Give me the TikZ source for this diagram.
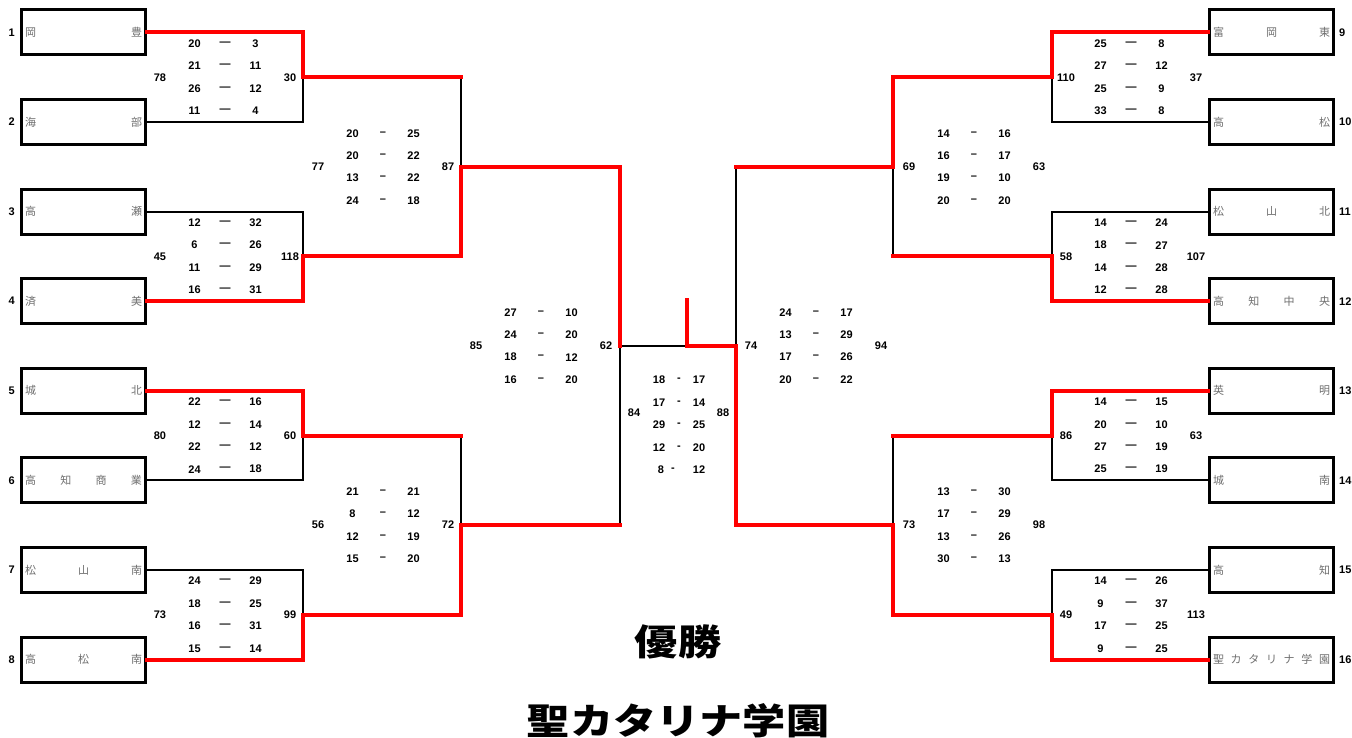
\documentclass[tikz,border=0pt]{standalone}
\usepackage{fontspec}
\setmainfont{Liberation Sans}
\newfontfamily\jpfont{Noto Sans CJK JP}
\usetikzlibrary{positioning}
\definecolor{namegray}{RGB}{110,110,110}

\begin{document}
\begin{tikzpicture}[
                    x=1pt,
                    y=-1pt,
                    team/.style={
                        draw=black,
                        line width=3pt,
                        minimum width=124pt,
                        minimum height=45pt,
                        inner sep=0pt,
                        text=namegray,
                        font=\jpfont\fontsize{11}{11}\selectfont
                    },
                    seed/.style={inner sep=0pt, font=\bfseries\fontsize{11}{11}\selectfont},
                    score/.style={inner sep=0pt, font=\bfseries\fontsize{11}{11}\selectfont},
                    win/.style={draw=red, line width=4pt, line cap=rect},
                    lose/.style={draw=black, line width=2pt, line cap=rect},
                    title/.style={inner sep=0pt, xscale=1.2, font=\jpfont\bfseries\fontsize{36}{36}\selectfont}
                ]
                \useasboundingbox (0,0) rectangle (1352,738);
                \newcommand{\mkteam}[4]{
                    \node (#1) [team] at (#2,#3) {\hbox to 117pt{#4}};
                }
                \newcommand{\mkmatch}[7]{
                    \node (#1L) [score] at ({#2-65},#3) {#5};
                    \node (#1R) [score] at ({#2+65},#3) {#6};
                    \foreach \a/\b [count=\k] in {#7} {
                        \node (#1a\k) [score] at ({#2-30.5},{#3+(\k-2.5)*22.4}) {\a};
                        \node (#1d\k) [score] at ({#2},{#3+(\k-2.5)*22.4}) {#4};
                        \node (#1b\k) [score] at ({#2+30.5},{#3+(\k-2.5)*22.4}) {\b};
                    }
                }
                % teams, left side
                \mkteam{t1}{83.5}{32.5}{岡\hfill 豊}
                \mkteam{t2}{83.5}{122.1}{海\hfill 部}
                \mkteam{t3}{83.5}{211.6}{高\hfill 瀬}
                \mkteam{t4}{83.5}{301.2}{済\hfill 美}
                \mkteam{t5}{83.5}{390.8}{城\hfill 北}
                \mkteam{t6}{83.5}{480.4}{高\hfill 知\hfill 商\hfill 業}
                \mkteam{t7}{83.5}{569.9}{松\hfill 山\hfill 南}
                \mkteam{t8}{83.5}{659.5}{高\hfill 松\hfill 南}
                % teams, right side
                \mkteam{t9}{1271.5}{32.5}{富\hfill 岡\hfill 東}
                \mkteam{t10}{1271.5}{122.1}{高\hfill 松}
                \mkteam{t11}{1271.5}{211.6}{松\hfill 山\hfill 北}
                \mkteam{t12}{1271.5}{301.2}{高\hfill 知\hfill 中\hfill 央}
                \mkteam{t13}{1271.5}{390.8}{英\hfill 明}
                \mkteam{t14}{1271.5}{480.4}{城\hfill 南}
                \mkteam{t15}{1271.5}{569.9}{高\hfill 知}
                \mkteam{t16}{1271.5}{659.5}{聖\hfill カ\hfill タ\hfill リ\hfill ナ\hfill 学\hfill 園}

                \foreach \i in {1,...,8} {
                    \node (n\i) [seed, left=5pt of t\i] {\i};
                }
                \foreach \i in {9,...,16} {
                    \node (n\i) [seed, right=4pt of t\i] {\i};
                }

                % junctions
                \coordinate (m1) at (303,77.3);
                \coordinate (m2) at (303,256.4);
                \coordinate (m3) at (303,435.6);
                \coordinate (m4) at (303,614.7);
                \coordinate (m5) at (461,166.9);
                \coordinate (m6) at (461,525.1);
                \coordinate (m7) at (620,346);
                \coordinate (m9) at (1052,77.3);
                \coordinate (m10) at (1052,256.4);
                \coordinate (m11) at (1052,435.6);
                \coordinate (m12) at (1052,614.7);
                \coordinate (m13) at (893,166.9);
                \coordinate (m14) at (893,525.1);
                \coordinate (m8) at (736,346);
                \coordinate (fin) at (687,346);
                \coordinate (top) at (687,300);

                % scores
                \mkmatch{s1}{225}{77.3}{—}{78}{30}{20/3,21/11,26/12,11/4}
                \mkmatch{s2}{225}{256.4}{—}{45}{118}{12/32,6/26,11/29,16/31}
                \mkmatch{s3}{225}{435.6}{—}{80}{60}{22/16,12/14,22/12,24/18}
                \mkmatch{s4}{225}{614.7}{—}{73}{99}{24/29,18/25,16/31,15/14}
                \mkmatch{s5}{383}{166.9}{–}{77}{87}{20/25,20/22,13/22,24/18}
                \mkmatch{s6}{383}{525.1}{–}{56}{72}{21/21,8/12,12/19,15/20}
                \mkmatch{s7}{541}{346}{–}{85}{62}{27/10,24/20,18/12,16/20}
                \mkmatch{s8}{816}{346}{–}{74}{94}{24/17,13/29,17/26,20/22}
                \mkmatch{s9}{1131}{77.3}{—}{110}{37}{25/8,27/12,25/9,33/8}
                \mkmatch{s10}{1131}{256.4}{—}{58}{107}{14/24,18/27,14/28,12/28}
                \mkmatch{s11}{1131}{435.6}{—}{86}{63}{14/15,20/10,27/19,25/19}
                \mkmatch{s12}{1131}{614.7}{—}{49}{113}{14/26,9/37,17/25,9/25}
                \mkmatch{s13}{974}{166.9}{–}{69}{63}{14/16,16/17,19/10,20/20}
                \mkmatch{s14}{974}{525.1}{–}{73}{98}{13/30,17/29,13/26,30/13}

                % final
                \node (s0L) [score] at (634,413) {84};
                \node (s0R) [score] at (723,413) {88};
                \foreach \a/\b [count=\k] in {18/17,17/14,29/25,12/20} {
                    \node (s0a\k) [score] at (659,{380+(\k-1)*22.5}) {\a};
                    \node (s0d\k) [score] at (679,{380+(\k-1)*22.5}) {-};
                    \node (s0b\k) [score] at (699,{380+(\k-1)*22.5}) {\b};
                }
                \node (s0a5) [score] at (661,470) {8};
                \node (s0d5) [score] at (673,470) {-};
                \node (s0b5) [score] at (699,470) {12};

                \node (champ) [title] at (678,642) {優勝};
                \node (winner) [title] at (678,721) {聖カタリナ学園};

                % losing lines
                \draw[lose] (t2.east) -| (m1);
                \draw[lose] (t3.east) -| (m2);
                \draw[lose] (t6.east) -| (m3);
                \draw[lose] (t7.east) -| (m4);
                \draw[lose] (t10.west) -| (m9);
                \draw[lose] (t11.west) -| (m10);
                \draw[lose] (t14.west) -| (m11);
                \draw[lose] (t15.west) -| (m12);
                \draw[lose] (m1 -| m5) -- (m5);
                \draw[lose] (m3 -| m6) -- (m6);
                \draw[lose] (m10 -| m13) -- (m13);
                \draw[lose] (m11 -| m14) -- (m14);
                \draw[lose] (m6 -| m7) -- (m7);
                \draw[lose] (m13 -| m8) -- (m8);
                \draw[lose] (m7) -- (fin);

                % winning lines
                \draw[win] (t1.east) -| (m1);
                \draw[win] (t4.east) -| (m2);
                \draw[win] (t5.east) -| (m3);
                \draw[win] (t8.east) -| (m4);
                \draw[win] (t9.west) -| (m9);
                \draw[win] (t12.west) -| (m10);
                \draw[win] (t13.west) -| (m11);
                \draw[win] (t16.west) -| (m12);
                \foreach \a/\b in {m1/m5,m2/m5,m3/m6,m4/m6,m9/m13,m10/m13,m11/m14,m12/m14,m5/m7,m6/m7,m13/m8,m14/m8} {
                    \draw[win] (\a) -- (\a -| \b);
                }
                \draw[win] (m2 -| m5) -- (m5);
                \draw[win] (m4 -| m6) -- (m6);
                \draw[win] (m9 -| m13) -- (m13);
                \draw[win] (m12 -| m14) -- (m14);
                \draw[win] (m5 -| m7) -- (m7);
                \draw[win] (m14 -| m8) -- (m8);
                \draw[win] (m8) -- (fin) -- (top);
            \end{tikzpicture}
\end{document}
